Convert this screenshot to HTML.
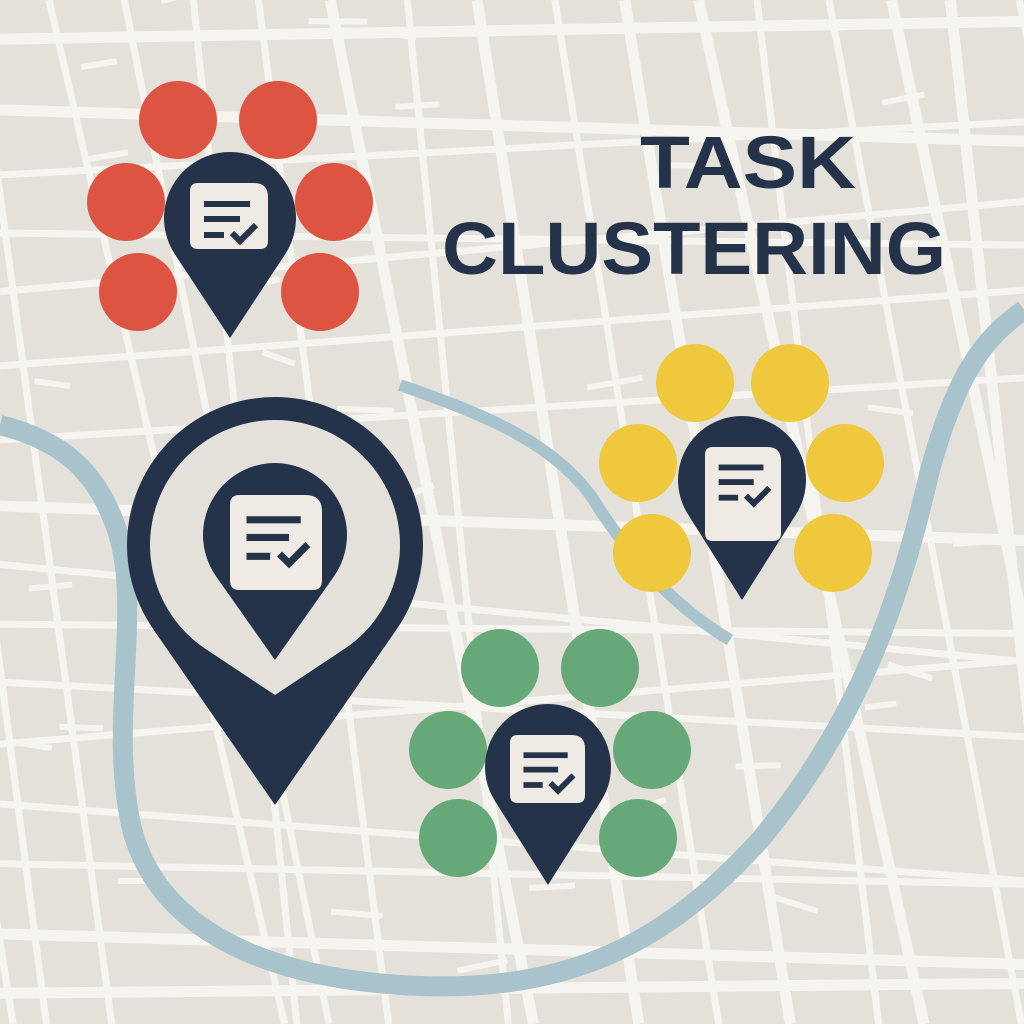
<!DOCTYPE html>
<html><head><meta charset="utf-8"><style>
html,body{margin:0;padding:0;background:#e4e1db;overflow:hidden;width:1024px;height:1024px;}
svg{display:block}
</style></head><body>
<svg id="s" width="1024" height="1024" viewBox="0 0 1024 1024" xmlns="http://www.w3.org/2000/svg">
<rect width="1024" height="1024" fill="#e4e1db"/>
<g id="roads" stroke="#f6f4ef" stroke-width="8" fill="none" stroke-linecap="butt"></g>
<path d="M0,425 C60,440 100,470 120,540 C140,620 110,720 130,820 C150,920 250,975 400,985 C560,995 660,950 760,840 C860,720 900,600 930,470 C955,380 980,340 1024,310" stroke="#a9c3cd" stroke-width="20" fill="none"/>
<path d="M400,385 C470,410 560,440 600,510 C640,570 680,610 730,640" stroke="#a9c3cd" stroke-width="12" fill="none"/>
<g id="pins"></g>
<text x="748" y="188" text-anchor="middle" font-family="Liberation Sans, sans-serif" font-weight="bold" font-size="74" fill="#25334a" textLength="216" lengthAdjust="spacingAndGlyphs">TASK</text>
<text x="694" y="274" text-anchor="middle" font-family="Liberation Sans, sans-serif" font-weight="bold" font-size="74" fill="#25334a" textLength="504" lengthAdjust="spacingAndGlyphs">CLUSTERING</text>
</svg>
<script>
var NS="http://www.w3.org/2000/svg";
var roads=document.getElementById('roads');
function line(x1,y1,x2,y2,w){var l=document.createElementNS(NS,'line');l.setAttribute('x1',x1);l.setAttribute('y1',y1);l.setAttribute('x2',x2);l.setAttribute('y2',y2);if(w)l.setAttribute('stroke-width',w);roads.appendChild(l);}
var seed=7;function rnd(){seed=(seed*9301+49297)%233280;return seed/233280;}
for(var y=-150;y<1200;y+=55+rnd()*20){line(0,y,1024,y-100+rnd()*200,rnd()<0.3?11:7);}
for(var x=-150;x<1200;x+=58+rnd()*20){line(x,0,x+100+rnd()*140,1024,rnd()<0.3?11:7);}
for(var i=0;i<30;i++){var x=rnd()*980,y=rnd()*980;line(x,y,x+30+rnd()*30,y-15+rnd()*30,6);}
var pins=document.getElementById('pins');
function el(t,a){var e=document.createElementNS(NS,t);for(var k in a)e.setAttribute(k,a[k]);pins.appendChild(e);return e;}
function drop(cx,cy,r,ty,fill){var d=ty-cy,s=r/d,c=Math.sqrt(1-s*s);var px=r*c,py=r*s;
 var p="M"+cx+","+ty+" L"+(cx-px)+","+(cy+py)+" A"+r+","+r+" 0 1 1 "+(cx+px)+","+(cy+py)+" Z";
 el('path',{d:p,fill:fill});}
function doc(x,y,w,h){var g=w/78;
 el('path',{d:"M"+(x+8*g)+","+y+" L"+(x+w-14*g)+","+y+" Q"+(x+w)+","+y+" "+(x+w)+","+(y+14*g)+" L"+(x+w)+","+(y+h-8*g)+" Q"+(x+w)+","+(y+h)+" "+(x+w-8*g)+","+(y+h)+" L"+(x+8*g)+","+(y+h)+" Q"+x+","+(y+h)+" "+x+","+(y+h-8*g)+" L"+x+","+(y+8*g)+" Q"+x+","+y+" "+(x+8*g)+","+y+"Z",fill:"#efebe4"});
 el('rect',{x:x+14*g,y:y+18*g,width:46*g,height:6*g,fill:"#25334a"});
 el('rect',{x:x+14*g,y:y+33*g,width:36*g,height:6*g,fill:"#25334a"});
 el('rect',{x:x+14*g,y:y+49*g,width:20*g,height:6*g,fill:"#25334a"});
 el('path',{d:"M"+(x+42*g)+","+(y+50*g)+" L"+(x+50*g)+","+(y+58*g)+" L"+(x+66*g)+","+(y+42*g),stroke:"#25334a","stroke-width":6*g,fill:"none"});}
function cluster(cs,col,cx,cy,r,ty,dx,dy,dw,dh){cs.forEach(function(c){el('circle',{cx:c[0],cy:c[1],r:39,fill:col});});drop(cx,cy,r,ty,"#25334a");doc(dx,dy,dw,dh);}
cluster([[178,120],[278,120],[126,202],[334,202],[138,292],[320,292]],"#dd5443",230,218,66,338,190,183,78,66);
cluster([[695,383],[790,383],[638,463],[845,463],[652,553],[833,553]],"#efc83e",742,480,64,600,705,447,76,94);
cluster([[500,668],[600,668],[448,750],[652,750],[458,838],[638,838]],"#66a878",548,767,63,885,510,735,75,68);
drop(275,545,148,805,"#25334a");
drop(275,545,125,695,"#e4e1db");
drop(275,535,72,660,"#25334a");
doc(230,495,92,95);
</script>
</body></html>
